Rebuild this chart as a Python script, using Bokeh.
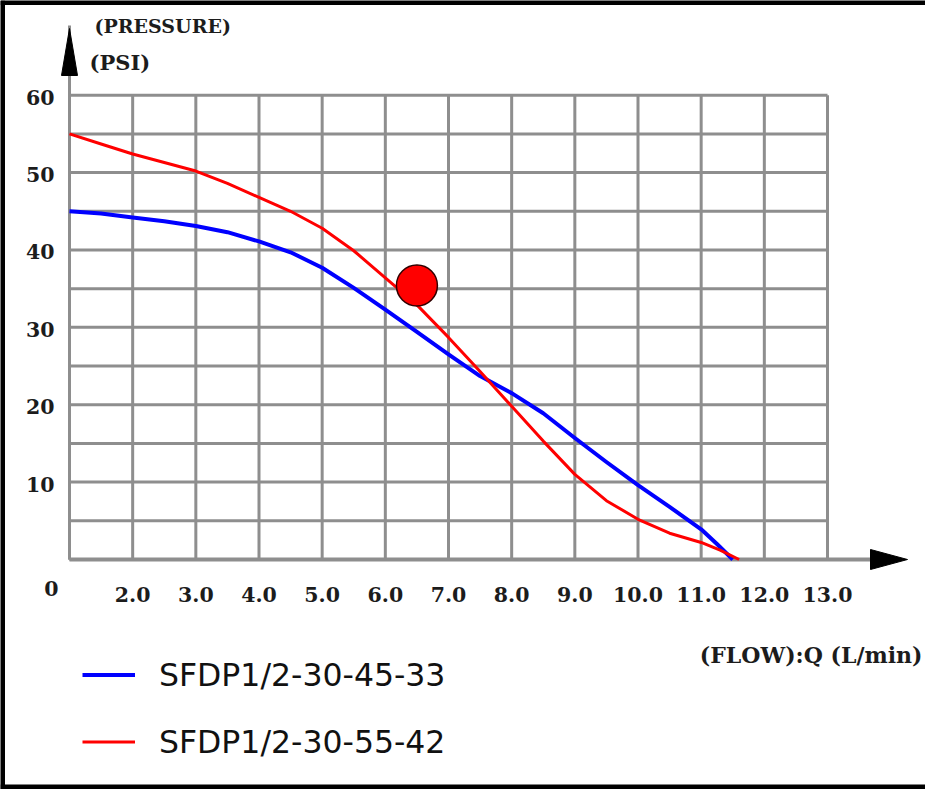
from bokeh.plotting import figure
from bokeh.models import Range1d, Label, Legend, LegendItem, Span
from bokeh.core.properties import value
from bokeh.embed import file_html
from bokeh.resources import INLINE

# ---------------- data ----------------
series_names = ["SFDP1/2-30-45-33", "SFDP1/2-30-55-42"]

flow_a = [1.0, 1.5, 2.0, 2.5, 3.0, 3.5, 4.0, 4.5, 5.0, 5.5, 6.0, 6.5, 7.0,
          7.5, 8.0, 8.5, 9.0, 9.5, 10.0, 10.5, 11.0, 11.25, 11.5]
pressure_a = [45.0, 44.7, 44.2, 43.7, 43.1, 42.3, 41.1, 39.7, 37.7, 35.1, 32.3,
              29.4, 26.5, 23.7, 21.5, 18.9, 15.7, 12.6, 9.6, 6.8, 3.9, 2.0, 0.0]

flow_b = [1.0, 1.5, 2.0, 2.5, 3.0, 3.5, 4.0, 4.5, 5.0, 5.5, 6.0, 6.5, 7.0,
          7.5, 8.0, 8.5, 9.0, 9.5, 10.0, 10.5, 11.0, 11.3, 11.6]
pressure_b = [55.0, 53.7, 52.4, 51.3, 50.2, 48.6, 46.8, 45.0, 42.8, 39.9, 36.4,
              32.9, 28.7, 24.3, 19.8, 15.3, 11.0, 7.6, 5.2, 3.4, 2.2, 1.2, 0.0]

marker_flow = [6.5]
marker_pressure = [35.4]

x_ticks = [2, 3, 4, 5, 6, 7, 8, 9, 10, 11, 12, 13]
x_tick_labels = ["2.0", "3.0", "4.0", "5.0", "6.0", "7.0", "8.0", "9.0",
                 "10.0", "11.0", "12.0", "13.0"]
y_ticks = [10, 20, 30, 40, 50, 60]
y_tick_labels = ["10", "20", "30", "40", "50", "60"]
origin_label = ["0"]

grid_x = [1, 2, 3, 4, 5, 6, 7, 8, 9, 10, 11, 12, 13]
grid_y = [0, 5, 10, 15, 20, 25, 30, 35, 40, 45, 50, 55, 60]

# ---------------- layout ----------------
W, H = 925, 789
PX_L, PX_R = 69.0, 827.0      # plot area, pixels from left
PY_T, PY_B = 94.7, 559.0      # plot area, pixels from top
X0, X1 = grid_x[0], grid_x[-1]
Y0, Y1 = grid_y[0], grid_y[-1]
sx = (PX_R - PX_L) / (X1 - X0)
sy = (PY_B - PY_T) / (Y1 - Y0)
xs = X0 - PX_L / sx
xe = xs + W / sx
ys = Y0 - (H - PY_B) / sy
ye = ys + H / sy


def X(px):
    return xs + px / sx


def Y(py):
    return ye - py / sy


p = figure(width=W, height=H, x_range=Range1d(xs, xe), y_range=Range1d(ys, ye),
           output_backend="svg", toolbar_location=None,
           x_axis_type=None, y_axis_type=None, min_border=0,
           outline_line_color=None, background_fill_color="white",
           border_fill_color="white")

GRID = "#8e8e8e"
# grid
p.segment(x0=grid_x, y0=[Y0] * len(grid_x), x1=grid_x, y1=[Y1] * len(grid_x),
          line_color=GRID, line_width=3)
p.segment(x0=[X0] * len(grid_y), y0=grid_y, x1=[X1] * len(grid_y), y1=grid_y,
          line_color=GRID, line_width=3)

# axes lines + arrows
p.segment(x0=[X0], y0=[Y0], x1=[X(870)], y1=[Y0], line_color=GRID, line_width=4)
p.segment(x0=[X0], y0=[Y0], x1=[X0], y1=[Y(25)], line_color=GRID, line_width=3)
p.patch(x=[X(PX_L), X(PX_L - 8), X(PX_L + 8)], y=[Y(28), Y(75), Y(75)],
        fill_color="black", line_color="black", line_width=1)
p.patch(x=[X(907), X(870), X(870)], y=[Y(PY_B), Y(PY_B - 10), Y(PY_B + 10)],
        fill_color="black", line_color="black", line_width=1)

# curves
r_a = p.line(flow_a, pressure_a, line_color="#0000ff", line_width=4,
             line_join="round")
r_b = p.line(flow_b, pressure_b, line_color="#ff0000", line_width=3,
             line_join="round")
p.scatter(marker_flow, marker_pressure, size=41, fill_color="#ff0000",
          line_color="#300000", line_width=1.5)

TICK_FONT = value("DejaVu Serif")
TXT = "#1c1c1c"
FS = "20.5px"
p.text(x=x_ticks, y=[Y0] * len(x_ticks), text=x_tick_labels, y_offset=35,
       text_align="center", text_baseline="middle", text_font=TICK_FONT,
       text_font_style="bold", text_font_size=FS, text_color=TXT)
p.text(x=[X0] * len(y_ticks), y=y_ticks, text=y_tick_labels, x_offset=-15,
       y_offset=2, text_align="right", text_baseline="middle",
       text_font=TICK_FONT, text_font_style="bold", text_font_size=FS,
       text_color=TXT)
p.text(x=[X0], y=[Y0], text=origin_label, x_offset=-18, y_offset=29,
       text_align="center", text_baseline="middle", text_font=TICK_FONT,
       text_font_style="bold", text_font_size=FS, text_color=TXT)

# axis titles
for txt, x, y, align, fs in [("(PRESSURE)", 94, H - 25, "left", "19px"),
                             ("(PSI)", 89, H - 62, "left", "21px"),
                             ("(FLOW):Q (L/min)", 922, H - 654, "right", "22px")]:
    p.add_layout(Label(x=x, y=y, x_units="screen", y_units="screen", text=txt,
                       text_font="DejaVu Serif", text_font_style="bold",
                       text_font_size=fs, text_color=TXT,
                       text_align=align, text_baseline="middle"))

# legend
legend = Legend(items=[LegendItem(label=series_names[0], renderers=[r_a]),
                       LegendItem(label=series_names[1], renderers=[r_b])],
                location=(82, 29.5), orientation="vertical",
                label_text_font="DejaVu Sans", label_text_font_size="31.5px",
                label_text_color="#111111", label_height=35, glyph_height=35,
                glyph_width=53, label_standoff=24, spacing=31, padding=0,
                margin=0, border_line_color=None, background_fill_alpha=0)
p.add_layout(legend)

# frame border (top, left, bottom)
p.add_layout(Span(location=Y(2), dimension="width", line_color="black", line_width=5))
p.add_layout(Span(location=Y(H - 2.5), dimension="width", line_color="black", line_width=5))
p.add_layout(Span(location=X(2), dimension="height", line_color="black", line_width=5))

open("out.html", "w").write(file_html(p, INLINE))
